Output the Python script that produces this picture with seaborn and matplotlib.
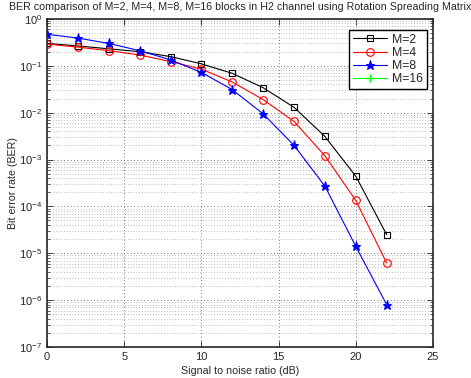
import numpy as np
import pandas as pd
import matplotlib
matplotlib.use('Agg')
import matplotlib.pyplot as plt
import seaborn as sns

# ─── Données ───
snr_db = [0, 2, 4, 6, 8, 10, 12, 14, 16, 18, 20, 22]
ber_m2 = [0.30, 0.265, 0.23, 0.20, 0.157, 0.11, 0.069, 0.034, 0.013, 0.0031, 4.4e-4, 2.5e-5]
ber_m4 = [0.29, 0.25, 0.21, 0.17, 0.123, 0.085, 0.045, 0.019, 0.0065, 0.0012, 1.34e-4, 6.2e-6]
ber_m8 = [0.47, 0.39, 0.30, 0.21, 0.134, 0.072, 0.031, 0.0094, 0.0020, 2.7e-4, 1.4e-5, 8e-7]

series = [('M=2', ber_m2, 'k', 's', 4.5), ('M=4', ber_m4, 'r', 'o', 5.5), ('M=8', ber_m8, 'b', '*', 6.5)]

sns.set_style('ticks')
plt.rcParams['font.family'] = ['Liberation Sans', 'DejaVu Sans']

fig = plt.figure(figsize=(4.71, 3.78), dpi=100)
ax = fig.add_axes([0.0998, 0.082, 0.8195, 0.868])

for name, ber, col, mk, ms in series:
    df = pd.DataFrame({'snr': snr_db, 'ber': ber})
    sns.lineplot(data=df, x='snr', y='ber', ax=ax, color=col, marker=mk,
                 markersize=ms, markerfacecolor='none' if mk != '*' else col,
                 markeredgecolor=col, markeredgewidth=0.8, linewidth=0.8,
                 label=name)
# M=16 : aucune donnée tracée, seulement dans la légende
ax.plot([], [], color='#00ff00', marker='+', markersize=6, linewidth=0.8, label='M=16')

ax.set_yscale('log')
ax.set_xlim(0, 25)
ax.set_ylim(1e-7, 1)
ax.set_xticks([0, 5, 10, 15, 20, 25])
ax.set_yticks([10.0**k for k in range(-7, 1)])
ax.grid(True, which='major', linestyle=(0, (1, 3)), color='0.3', linewidth=0.6)
ax.grid(True, which='minor', axis='y', linestyle=(0, (1, 3)), color='0.5', linewidth=0.5)
ax.tick_params(which='major', direction='in', top=True, right=True, labelsize=8, length=4, width=0.6)
ax.tick_params(which='minor', direction='in', top=True, right=True, length=2, width=0.5)
for s in ax.spines.values():
    s.set_linewidth(1.2)

ax.set_xlabel('Signal to noise ratio (dB)', fontsize=7.7, labelpad=3)
ax.set_ylabel('Bit error rate (BER)', fontsize=7.7, labelpad=1)
ax.set_title('BER comparison of M=2, M=4, M=8, M=16 blocks in H2 channel using Rotation Spreading Matrix',
             fontsize=7.7, pad=6.5)

leg = ax.legend(loc='upper right', fontsize=8.8, frameon=True, fancybox=False,
                edgecolor='k', framealpha=1, handlelength=2.8, borderpad=0.3,
                labelspacing=0.1, handletextpad=0.4, borderaxespad=0,
                bbox_to_anchor=(0.984, 0.966))
leg.get_frame().set_linewidth(1.0)

plt.savefig('out.png', dpi=100)
